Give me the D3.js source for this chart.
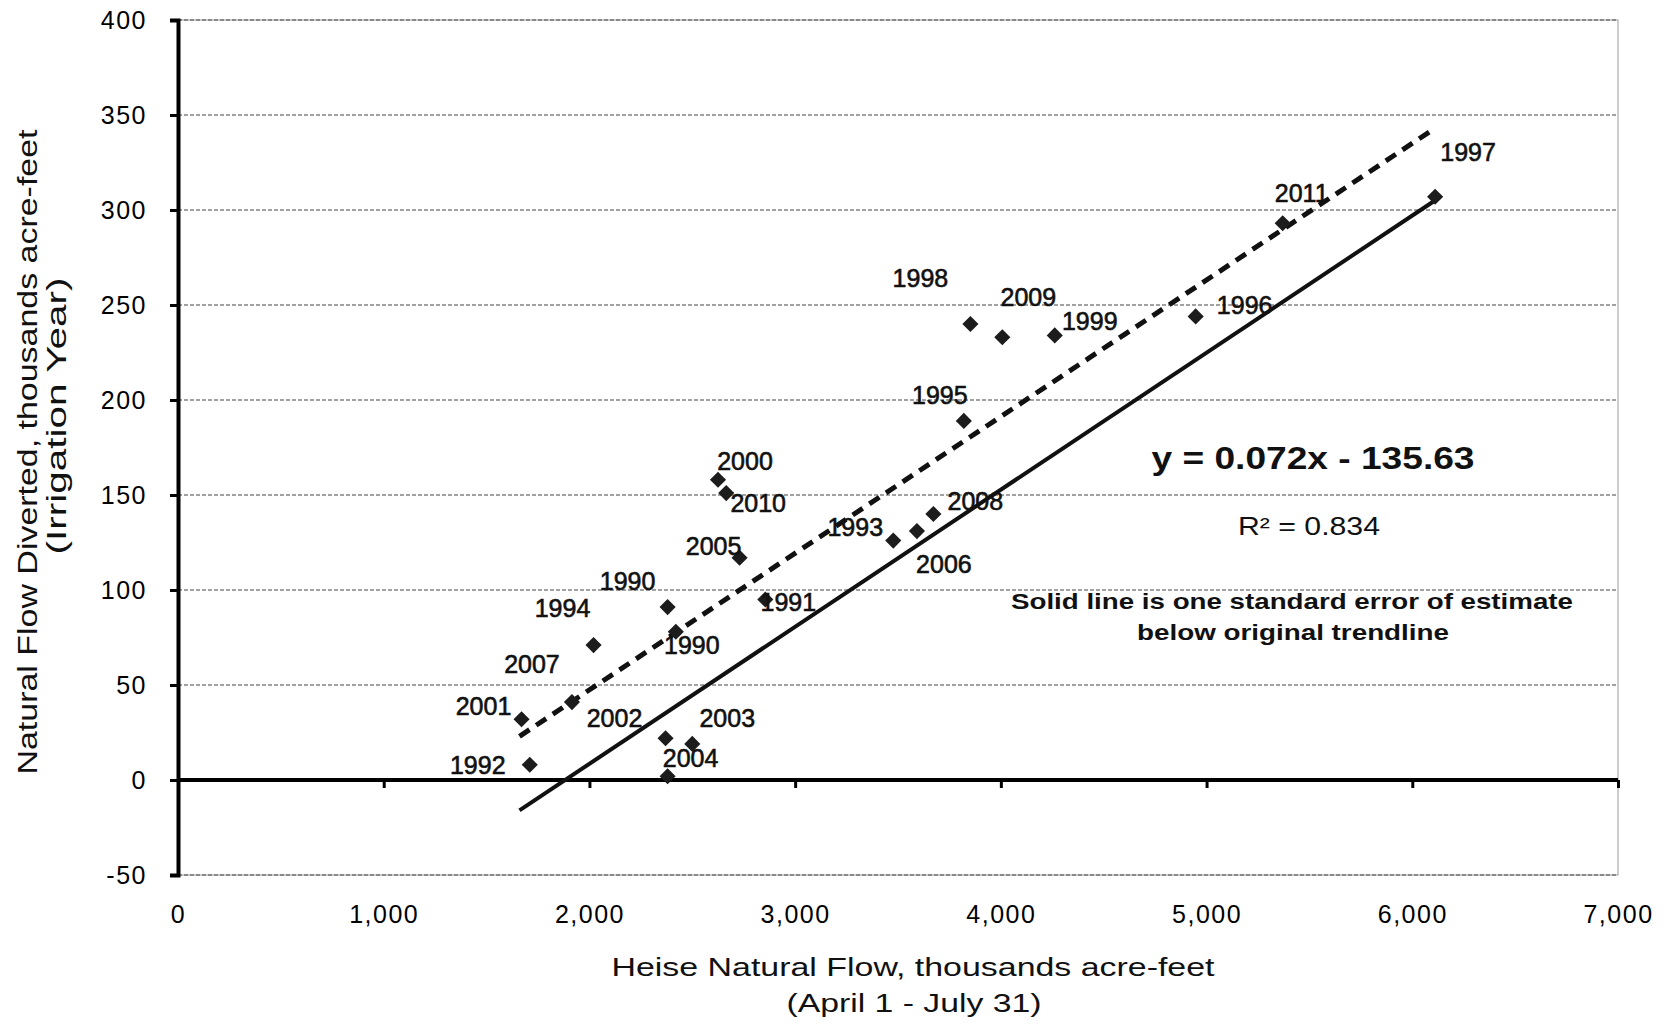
<!DOCTYPE html>
<html>
<head>
<meta charset="utf-8">
<script src="https://d3js.org/d3.v7.min.js"></script>
<style>
  body { margin: 0; background: #fff; }
</style>
</head>
<body>
<script>
//Global layout
var W = 1669;
var H = 1027;
var Left = 178;
var Right = 1618;
var Top = 20;
var Bottom = 875;

//Data
var years = ["1992", "2001", "2007", "1994", "1990", "1990", "2002", "2003", "2004",
  "2000", "2010", "2005", "1991", "1993", "2006", "2008", "1995", "1998",
  "2009", "1999", "1996", "2011", "1997"];
var heiseFlow = [1710, 1670, 1915, 2020, 2380, 2420, 2370, 2500, 2380,
  2625, 2665, 2730, 2855, 3477, 3592, 3672, 3820, 3852,
  4007, 4262, 4947, 5370, 6111];
var diverted = [8, 32, 41, 71, 91, 78, 22, 19, 2,
  158, 151, 117, 95, 126, 131, 140, 189, 240,
  233, 234, 244, 293, 307];

var xTicks = [0, 1000, 2000, 3000, 4000, 5000, 6000, 7000];
var yTicks = [-50, 0, 50, 100, 150, 200, 250, 300, 350, 400];

//Trendlines, end points
var trendX = [1660, 6110];
var originalY = [23, 343];   //dashed
var lowerY = [-16, 305];     //solid, one std error below

//Label offsets from each marker, in pixels
var labelDX = [-52, -38, -40, -31, -40, 16, -51, 35, 23,
  27, 32, -26, 23, -38, 27, 42, -24, -50,
  26, 35, 49, 19, 33];
var labelDY = [0, -13, -38, -37, -26, 13, -20, -26, -18,
  -19, 10, -12, 2, -14, 33, -13, -26, -46,
  -40, -14, -11, -30, -45];

var svg = d3.select("body").append("svg")
  .attr("width", W)
  .attr("height", H);

svg.append("rect").attr("width", W).attr("height", H).attr("fill", "#fff");

var xScale = d3.scaleLinear().domain([0, 7000]).range([Left, Right]);
var yScale = d3.scaleLinear().domain([-50, 400]).range([Bottom, Top]);

//Frame
svg.append("rect")
  .attr("x", Left).attr("y", Top)
  .attr("width", Right - Left).attr("height", Bottom - Top)
  .attr("fill", "none")
  .attr("stroke", "#9a9a9a")
  .attr("stroke-width", 1);

//Gridlines
svg.selectAll(".grid")
  .data(yTicks.filter(function(d) { return d != 0; }))
  .enter()
  .append("line")
  .attr("class", "grid")
  .attr("x1", Left).attr("x2", Right)
  .attr("y1", function(d) { return yScale(d); })
  .attr("y2", function(d) { return yScale(d); })
  .attr("stroke", "#444")
  .attr("stroke-width", 1)
  .attr("stroke-dasharray", "4,2");

//Y axis
var yAxis = svg.append("g")
  .attr("transform", "translate(" + Left + ",0)")
  .call(d3.axisLeft(yScale).tickValues(yTicks).tickSize(8).tickPadding(23)
    .tickFormat(function(d) { return String(d); }));
yAxis.select(".domain").attr("stroke", "#000").attr("stroke-width", 4);
yAxis.selectAll(".tick line").attr("stroke", "#000").attr("stroke-width", 3);
yAxis.selectAll("text")
  .attr("font-family", "'Liberation Sans', Arial, sans-serif")
  .attr("font-size", "25px")
  .attr("letter-spacing", "1.5px")
  .attr("fill", "#000");

//Zero line with ticks
var zeroAxis = svg.append("g")
  .attr("transform", "translate(0," + yScale(0) + ")")
  .call(d3.axisBottom(xScale).tickValues(xTicks).tickSize(8).tickFormat(""));
zeroAxis.select(".domain").attr("stroke", "#000").attr("stroke-width", 4)
  .attr("d", "M" + Left + ",0H" + Right);
zeroAxis.selectAll(".tick line").attr("stroke", "#000").attr("stroke-width", 3);

//X tick labels at bottom
var xAxis = svg.append("g")
  .attr("transform", "translate(0," + Bottom + ")")
  .call(d3.axisBottom(xScale).tickValues(xTicks).tickSize(0).tickPadding(30)
    .tickFormat(d3.format(",")));
xAxis.select(".domain").remove();
xAxis.selectAll("text")
  .attr("font-family", "'Liberation Sans', Arial, sans-serif")
  .attr("font-size", "25px")
  .attr("letter-spacing", "1.5px")
  .attr("fill", "#000");

//Trendlines
var line = d3.line()
  .x(function(d) { return xScale(d[0]); })
  .y(function(d) { return yScale(d[1]); });

svg.append("path")
  .datum(d3.zip(trendX, originalY))
  .attr("d", line)
  .attr("fill", "none")
  .attr("stroke", "#111")
  .attr("stroke-width", 5)
  .attr("stroke-dasharray", "12,8");

svg.append("path")
  .datum(d3.zip(trendX, lowerY))
  .attr("d", line)
  .attr("fill", "none")
  .attr("stroke", "#111")
  .attr("stroke-width", 4);

//Points
var points = d3.range(years.length);
var diamond = d3.symbol().type(d3.symbolSquare).size(130);

svg.selectAll(".pt")
  .data(points)
  .enter()
  .append("path")
  .attr("class", "pt")
  .attr("d", diamond)
  .attr("transform", function(i) {
    return "translate(" + xScale(heiseFlow[i]) + "," + yScale(diverted[i]) + ") rotate(45)";
  })
  .attr("fill", "#1c1c1c");

svg.selectAll(".yr")
  .data(points)
  .enter()
  .append("text")
  .attr("class", "yr")
  .attr("x", function(i) { return xScale(heiseFlow[i]) + labelDX[i]; })
  .attr("y", function(i) { return yScale(diverted[i]) + labelDY[i]; })
  .attr("dy", "0.36em")
  .attr("text-anchor", "middle")
  .attr("font-family", "'Liberation Sans Narrow', 'Arial Narrow', sans-serif")
  .attr("font-size", "25px")
  .attr("fill", "#111")
  .attr("stroke", "#111")
  .attr("stroke-width", 0.6)
  .text(function(i) { return years[i]; });

//Annotations
function addText(x, y, str, size, weight, len) {
  var t = svg.append("text")
    .attr("x", x).attr("y", y)
    .attr("text-anchor", "middle")
    .attr("font-family", "'Liberation Sans', Arial, sans-serif")
    .attr("font-size", size + "px")
    .attr("font-weight", weight)
    .attr("fill", "#111")
    .text(str);
  if (len) {
    t.attr("textLength", len).attr("lengthAdjust", "spacingAndGlyphs");
  }
  return t;
}

addText(1313, 469, "y = 0.072x - 135.63", 32, "bold", 323);
addText(1309, 535, "R\u00b2 = 0.834", 25, "normal", 142);
addText(1292, 609, "Solid line is one standard error of estimate", 22, "bold", 562);
addText(1293, 640, "below original trendline", 22, "bold", 312);

//Axis titles
addText(913, 976, "Heise Natural Flow, thousands  acre-feet", 25, "normal", 603);
addText(914, 1012, "(April 1 - July 31)", 25, "normal", 255);

addText(0, 0, "Natural Flow Diverted, thousands  acre-feet", 27, "normal", 645)
  .attr("transform", "translate(37,452) rotate(-90)");
addText(0, 0, "(Irrigation Year)", 27, "normal", 277)
  .attr("transform", "translate(66,416) rotate(-90)");
</script>
</body>
</html>
